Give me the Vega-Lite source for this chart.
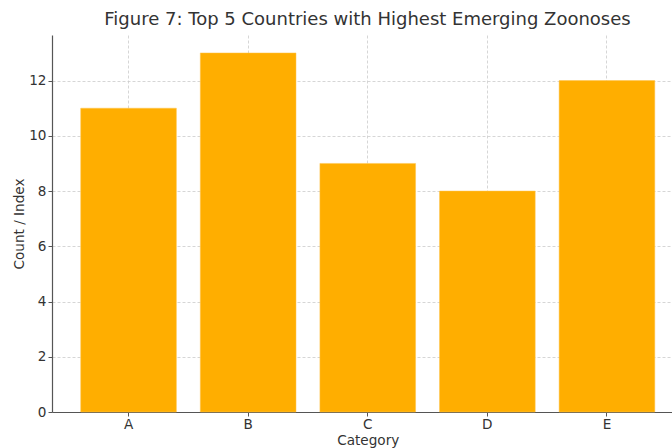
{
  "$schema": "https://vega.github.io/schema/vega-lite/v6.json",
  "width": 620,
  "height": 377,
  "autosize": {"type": "none"},
  "padding": {"left": 52, "top": 35, "right": 0, "bottom": 36},
  "background": "white",
  "title": {
    "text": "Figure 7: Top 5 Countries with Highest Emerging Zoonoses",
    "font": "DejaVu Sans",
    "fontSize": 18,
    "fontWeight": "normal",
    "color": "#333333",
    "anchor": "middle",
    "frame": "group",
    "dx": 5.5,
    "offset": 6
  },
  "config": {
    "view": {"stroke": null},
    "axis": {
      "labelFont": "DejaVu Sans",
      "titleFont": "DejaVu Sans",
      "labelFontSize": 13.6,
      "titleFontSize": 13.6,
      "titleFontWeight": "normal",
      "labelColor": "#333333",
      "titleColor": "#333333",
      "domainColor": "#555555",
      "domainWidth": 1.2,
      "tickColor": "#555555",
      "tickSize": 4,
      "grid": true,
      "gridColor": "#cccccc",
      "gridDash": [3, 2],
      "gridWidth": 0.8,
      "zindex": 1
    }
  },
  "data": {
    "values": [
      {"Category": "A", "Value": 11},
      {"Category": "B", "Value": 13},
      {"Category": "C", "Value": 9},
      {"Category": "D", "Value": 8},
      {"Category": "E", "Value": 12}
    ]
  },
  "mark": {"type": "bar", "color": "#ffae00", "stroke": "#ffc44d", "strokeWidth": 0.5},
  "encoding": {
    "x": {
      "field": "Category",
      "type": "nominal",
      "scale": {"range": [0, 631.5], "paddingInner": 0.2, "paddingOuter": 0.24},
      "axis": {"labelAngle": 0, "title": "Category", "labelPadding": 1, "titlePadding": 3}
    },
    "y": {
      "field": "Value",
      "type": "quantitative",
      "scale": {"domain": [0, 13.65], "nice": false},
      "axis": {"values": [0, 2, 4, 6, 8, 10, 12], "title": "Count / Index", "labelPadding": 2, "titlePadding": 2}
    }
  }
}
